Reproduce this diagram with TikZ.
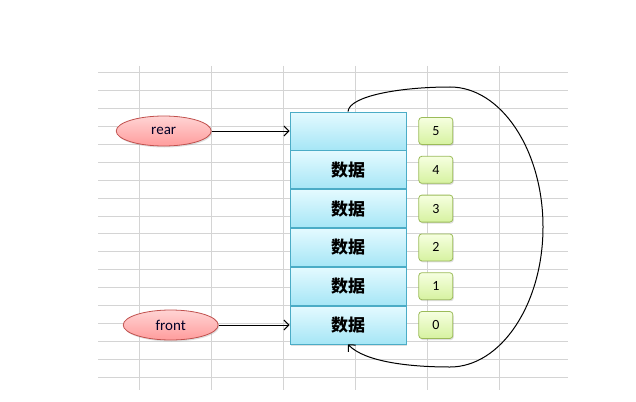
\documentclass[tikz,border=0pt]{standalone}
\usepackage{fontspec}
\usepackage{xcolor}
\setmainfont{Carlito}
\newfontfamily\cjk{Noto Sans CJK SC}
\usepackage{tikz}
\usetikzlibrary{shapes,arrows.meta,positioning,shadows}

\definecolor{cellline}{HTML}{4BACC6}
\definecolor{celltop}{HTML}{E4FAFF}
\definecolor{cellbot}{HTML}{A6E6F6}
\definecolor{idxline}{HTML}{9BBB59}
\definecolor{idxtop}{HTML}{F6FFE0}
\definecolor{idxbot}{HTML}{D6F2A0}
\definecolor{ptrline}{HTML}{C0504D}
\definecolor{ptrtop}{HTML}{FFD4D4}
\definecolor{ptrbot}{HTML}{FF9C9C}
\definecolor{gridgray}{HTML}{D4D4D4}

\begin{document}
\begin{tikzpicture}[x=1pt, y=-1pt, ->, >={Straight Barb[length=5pt, width=10pt]},
  line width=1pt,
  cell/.style={rectangle, draw=cellline, line width=0.8pt, top color=celltop, bottom color=cellbot,
    minimum width=116pt, minimum height=38pt, inner sep=0pt,
    font=\cjk\bfseries\fontsize{17}{19}\selectfont,
    drop shadow={shadow xshift=1pt, shadow yshift=-1.5pt, opacity=0.25}},
  idx/.style={rectangle, rounded corners=3pt, draw=idxline, line width=0.8pt, top color=idxtop, bottom color=idxbot,
    minimum width=34pt, minimum height=27pt, inner sep=0pt,
    font=\fontsize{14}{16}\selectfont,
    drop shadow={shadow xshift=1pt, shadow yshift=-1.5pt, opacity=0.25}},
  ptr/.style={ellipse, draw=ptrline, line width=0.8pt, top color=ptrtop, bottom color=ptrbot,
    minimum width=95pt, minimum height=30pt, inner sep=0pt,
    font=\fontsize{15}{17}\selectfont, text=black!85!blue,
    drop shadow={shadow xshift=1pt, shadow yshift=-1.5pt, opacity=0.25}},
  gridline/.style={-, draw=gridgray, line width=0.9pt}]

\useasboundingbox (0,0) rectangle (636,401);

% background sheet
\draw[gridline] (98,72) -- (568,72)   (98,90) -- (568,90)   (98,108) -- (568,108)
                (98,126) -- (568,126) (98,144) -- (568,144) (98,162) -- (568,162)
                (98,180) -- (568,180) (98,198) -- (568,198) (98,216) -- (568,216)
                (98,233) -- (568,233) (98,251) -- (568,251) (98,269) -- (568,269)
                (98,287) -- (568,287) (98,305) -- (568,305) (98,323) -- (568,323)
                (98,341) -- (568,341) (98,359) -- (568,359) (98,377) -- (568,377);
\draw[gridline] (139,66) -- (139,390) (211,66) -- (211,390) (283,66) -- (283,390)
                (355,66) -- (355,390) (427,66) -- (427,390) (499,66) -- (499,390);

\node[cell] (c5) at (348,131)             {};
\node[cell] (c4) [below=0pt of c5]        {数据};
\node[cell] (c3) [below=0pt of c4]        {数据};
\node[cell] (c2) [below=0pt of c3]        {数据};
\node[cell] (c1) [below=0pt of c2]        {数据};
\node[cell] (c0) [below=0pt of c1]        {数据};

\node[idx]  (i5) [right=12pt of c5]       {5};
\node[idx]  (i4) [right=12pt of c4]       {4};
\node[idx]  (i3) [right=12pt of c3]       {3};
\node[idx]  (i2) [right=12pt of c2]       {2};
\node[idx]  (i1) [right=12pt of c1]       {1};
\node[idx]  (i0) [right=12pt of c0]       {0};

\node[ptr]  (rear)  [left=78pt of c5]     {rear};
\node[ptr]  (front) [left=71pt of c0]     {front};

\path(rear)   edge   (c5);
\path(front)  edge   (c0);

\draw (c5.north) .. controls (349,96) and (400,87) .. (450,87)
      .. controls (501,87) and (543,150) .. (543,227)
      .. controls (543,304) and (501,367) .. (450,367)
      .. controls (410,367) and (365,362) .. (c0.south);

\end{tikzpicture}
\end{document}
